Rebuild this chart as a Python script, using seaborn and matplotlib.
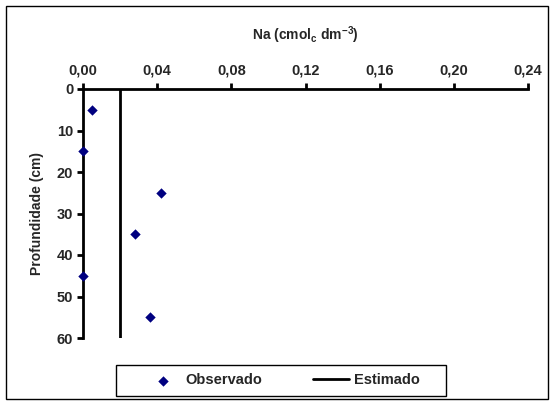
import matplotlib
matplotlib.use("Agg")
import matplotlib.pyplot as plt
import seaborn as sns
import pandas as pd
from matplotlib.patches import Rectangle

# Data
depth_obs = [5, 15, 25, 35, 45, 55]
na_obs = [0.005, 0.0, 0.042, 0.028, 0.0, 0.036]
depth_est = [0, 60]
na_est = [0.02, 0.02]
x_ticks = [0.00, 0.04, 0.08, 0.12, 0.16, 0.20, 0.24]
x_tick_labels = ["0,00", "0,04", "0,08", "0,12", "0,16", "0,20", "0,24"]
y_ticks = [0, 10, 20, 30, 40, 50, 60]

sns.set_style("white")
plt.rcParams['font.family'] = ['Liberation Sans', 'DejaVu Sans']
plt.rcParams['font.weight'] = 'bold'
plt.rcParams['mathtext.fontset'] = 'custom'
plt.rcParams['mathtext.bf'] = 'Liberation Sans:bold'
plt.rcParams['mathtext.rm'] = 'Liberation Sans:bold'
FS = 10.5
FSL = 10

fig = plt.figure(figsize=(5.51, 4.05), dpi=100)
ax = fig.add_axes([83/551, 1-338/405, (528-83)/551, (338-89)/405])

obs = pd.DataFrame({"Na": na_obs, "Prof": depth_obs})
est = pd.DataFrame({"Na": na_est, "Prof": depth_est})

sns.lineplot(data=est, x="Na", y="Prof", sort=False, estimator=None,
             color="black", linewidth=2, ax=ax, label="Estimado")
sns.scatterplot(data=obs, x="Na", y="Prof", marker="D", s=28, color="#000080",
                edgecolor="#000080", linewidth=0, ax=ax, label="Observado", zorder=5, clip_on=False)

ax.set_xlim(0, 0.24)
ax.set_ylim(60, 0)
ax.xaxis.tick_top()
ax.set_xticks(x_ticks)
ax.set_xticklabels(x_tick_labels)
ax.set_yticks(y_ticks)
ax.set_yticklabels([str(v) for v in y_ticks])
for lab in ax.get_xticklabels() + ax.get_yticklabels():
    lab.set_fontweight('bold')
    lab.set_fontsize(FS)
ax.tick_params(axis='x', which='both', top=True, bottom=False, direction='out', length=4, width=2, pad=4, color='black')
ax.tick_params(axis='y', which='both', left=True, direction='out', length=4, width=2, pad=3, color='black')
ax.set_xlabel("")
ax.set_ylabel("Profundidade (cm)", fontsize=FSL, fontweight='bold', labelpad=9)
for side in ['right', 'bottom']:
    ax.spines[side].set_visible(False)
for side in ['left', 'top']:
    ax.spines[side].set_visible(True)
    ax.spines[side].set_linewidth(2)
    ax.spines[side].set_color('black')
ax.patch.set_alpha(0)

fig.text(305/551, 1-35/405, r"Na (cmol$_{\mathrm{c}}$ dm$^{\mathrm{-3}}$)", ha='center', va='center',
         fontsize=FSL, fontweight='bold')

if ax.get_legend():
    ax.get_legend().remove()
handles, labels = ax.get_legend_handles_labels()
order = [labels.index("Observado"), labels.index("Estimado")]
leg = fig.legend([handles[i] for i in order], [labels[i] for i in order],
                 loc='center', bbox_to_anchor=(282/551, 1-380.5/405), ncol=2,
                 frameon=False, prop={'weight': 'bold', 'size': FS}, handlelength=2.5,
                 columnspacing=3.5, handletextpad=0.3, borderaxespad=0)

fig.patches.append(Rectangle((116/551, 1-396/405), 330/551, 31/405, transform=fig.transFigure,
                             fill=False, edgecolor='black', linewidth=1))
fig.patches.append(Rectangle((6/551, 1-399/405), 542/551, 393/405, transform=fig.transFigure,
                             fill=False, edgecolor='black', linewidth=1))

fig.savefig("out.png", dpi=100)
